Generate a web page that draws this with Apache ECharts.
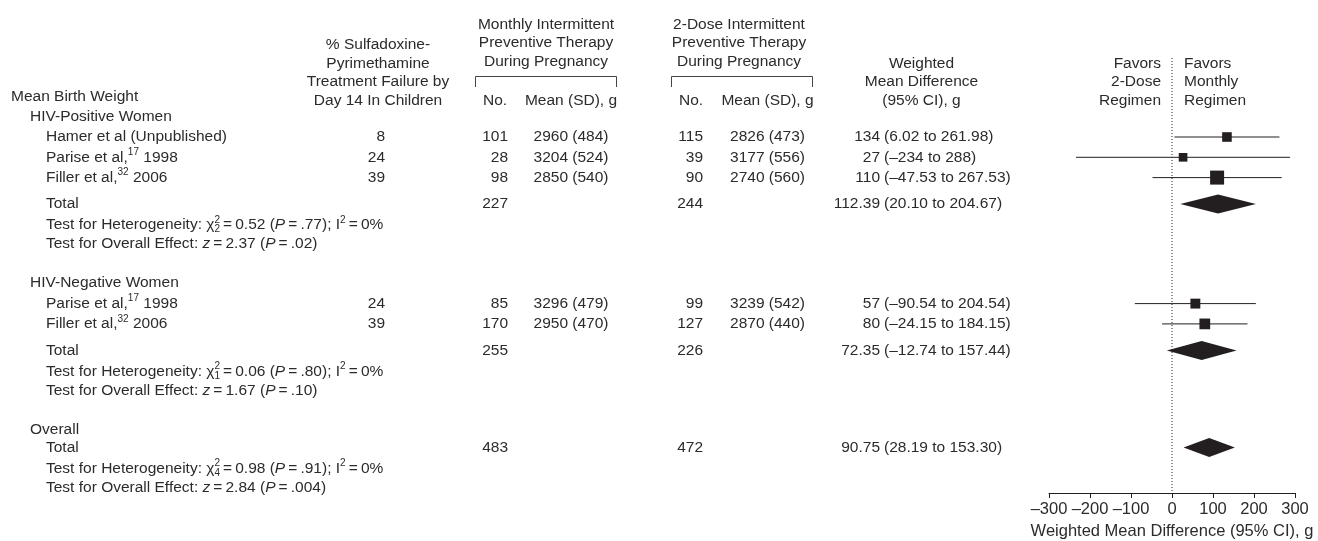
<!DOCTYPE html>
<html>
<head>
<meta charset="utf-8">
<script src="https://cdn.jsdelivr.net/npm/echarts@6/dist/echarts.min.js"></script>
<style>
  html, body { margin: 0; padding: 0; background: #fff; }
  #chart { width: 1318px; height: 541px; }
</style>
</head>
<body>
<div id="chart"></div>
<script>
// ---------- study data ----------
const studyNames = ['Hamer et al (Unpublished)', 'Parise et al,', 'Filler et al,', 'Parise et al,', 'Filler et al,'];
const studyRefs = ['', '17', '32', '17', '32'];
const studyYears = ['', '1998', '2006', '1998', '2006'];
const studyGroup = [0, 0, 0, 1, 1];
const failurePct = [8, 24, 39, 24, 39];
const monthlyN = [101, 28, 98, 85, 170];
const monthlyMean = [2960, 3204, 2850, 3296, 2950];
const monthlySD = [484, 524, 540, 479, 470];
const twoDoseN = [115, 39, 90, 99, 127];
const twoDoseMean = [2826, 3177, 2740, 3239, 2870];
const twoDoseSD = [473, 556, 560, 542, 440];
const wmd = [134, 27, 110, 57, 80];
const wmdLow = [6.02, -234, -47.53, -90.54, -24.15];
const wmdHigh = [261.98, 288, 267.53, 204.54, 184.15];
const weightPct = [16, 13, 34, 17, 20];

// ---------- pooled data per subgroup ----------
const groupNames = ['HIV-Positive Women', 'HIV-Negative Women', 'Overall'];
const totalMonthlyN = [227, 255, 483];
const totalTwoDoseN = [244, 226, 472];
const pooledWmd = [112.39, 72.35, 90.75];
const pooledLow = [20.10, -12.74, 28.19];
const pooledHigh = [204.67, 157.44, 153.30];
const hetChi2 = [0.52, 0.06, 0.98];
const hetDf = [2, 1, 4];
const hetP = [0.77, 0.80, 0.91];
const hetI2 = [0, 0, 0];
const effectZ = [2.37, 1.67, 2.84];
const effectP = [0.02, 0.10, 0.004];

// ---------- axis ----------
const axisTicks = [-300, -200, -100, 0, 100, 200, 300];
const axisTitle = 'Weighted Mean Difference (95% CI), g';

// ---------- styling / layout ----------
const FONT = "'Liberation Sans', Arial, Helvetica, sans-serif";
const FS = 15.5;      // body text
const AFS = 16.5;     // axis text
const SFS = 10;       // super/subscripts
const INK = '#231f20';
const TEXT = '#2b2b2b';
const T = '\u2009';   // thin space
const PLOT_BOTTOM = 493;
const REF_TOP = 58;
const SQUARE_K = 2.4;
const DIAMOND_HALF = 9.5;
const SUP_DY = -5, SUB_DY = 4.5;

// Table rows: title, then per group a header, its studies, total and two test lines
const rows = [{ kind: 'title' }];
groupNames.forEach((g, gi) => {
  rows.push({ kind: 'group', gi });
  studyGroup.forEach((sg, si) => { if (sg === gi) rows.push({ kind: 'study', gi, si }); });
  rows.push({ kind: 'total', gi });
  rows.push({ kind: 'het', gi });
  rows.push({ kind: 'effect', gi });
});
const GAP = {
  'title>group': 20, 'group>study': 20.5, 'study>study': 20.3, 'study>total': 26.5,
  'group>total': 18, 'total>het': 21, 'het>effect': 19, 'effect>group': 39
};
let prevRow = null, curY = 96.5;
rows.forEach(r => {
  if (prevRow) curY += GAP[prevRow.kind + '>' + r.kind];
  r.y = curY;
  prevRow = r;
});

// ---------- text helpers ----------
const measureCtx = document.createElement('canvas').getContext('2d');
function fontOf(size, italic) { return (italic ? 'italic ' : 'normal ') + 'normal ' + size + 'px ' + FONT; }
function widthOf(text, size, italic) { measureCtx.font = fontOf(size, italic); return measureCtx.measureText(text).width; }
function textEl(x, y, text, size, italic) {
  return {
    type: 'text', x: x, y: y, silent: true,
    style: { text: text, fontSize: size, fontFamily: FONT, fontStyle: italic ? 'italic' : 'normal',
             fill: TEXT, align: 'left', verticalAlign: 'middle' }
  };
}
function addLine(out, x, y, runs, align) {
  if (typeof runs === 'string') runs = [{ t: runs }];
  const ws = runs.map(r => r.k === 'stack'
    ? Math.max(widthOf(r.sup, SFS), widthOf(r.sub, SFS))
    : widthOf(r.t, (r.k === 'sup' || r.k === 'sub') ? SFS : FS, r.k === 'i'));
  const total = ws.reduce((a, b) => a + b, 0);
  let cx = align === 'right' ? x - total : align === 'center' ? x - total / 2 : x;
  runs.forEach((r, i) => {
    if (r.k === 'stack') {
      out.push(textEl(cx, y + SUP_DY, r.sup, SFS));
      out.push(textEl(cx, y + SUB_DY, r.sub, SFS));
    } else if (r.k === 'sup') out.push(textEl(cx, y + SUP_DY, r.t, SFS));
    else if (r.k === 'sub') out.push(textEl(cx, y + SUB_DY, r.t, SFS));
    else out.push(textEl(cx, y, r.t, FS, r.k === 'i'));
    cx += ws[i];
  });
}
const dash = s => s.replace('-', '\u2013');
const num = v => dash(Number.isInteger(v) ? String(v) : v.toFixed(2));
const pval = p => (p < 0.01 ? p.toFixed(3) : p.toFixed(2)).replace(/^0/, '');
const ci = (lo, hi) => '(' + num(lo) + ' to ' + num(hi) + ')';

// ---------- column positions ----------
const X = {
  title: 11, group: 30, item: 46,
  failure: 385, mN: 508, mMean: 571, tN: 703, tMean: 767.5,
  estRight: 880, ciLeft: 884
};

const g = [];
// column headers
const HY3 = [63.5, 82, 100.5];
['% Sulfadoxine-', 'Pyrimethamine', 'Treatment Failure by', 'Day 14 In Children']
  .forEach((t, i) => addLine(g, 378, [45, 63.5, 82, 100.5][i], t, 'center'));
['Monthly Intermittent', 'Preventive Therapy', 'During Pregnancy']
  .forEach((t, i) => addLine(g, 546, [24.5, 43, 61.5][i], t, 'center'));
['2-Dose Intermittent', 'Preventive Therapy', 'During Pregnancy']
  .forEach((t, i) => addLine(g, 739, [24.5, 43, 61.5][i], t, 'center'));
addLine(g, 495, 100.5, 'No.', 'center');
addLine(g, X.mMean, 100.5, 'Mean (SD), g', 'center');
addLine(g, 691, 100.5, 'No.', 'center');
addLine(g, X.tMean, 100.5, 'Mean (SD), g', 'center');
['Weighted', 'Mean Difference', '(95% CI), g'].forEach((t, i) => addLine(g, 921.5, HY3[i], t, 'center'));
['Favors', '2-Dose', 'Regimen'].forEach((t, i) => addLine(g, 1161, HY3[i], t, 'right'));
['Favors', 'Monthly', 'Regimen'].forEach((t, i) => addLine(g, 1184, HY3[i], t, 'left'));
[[475.5, 616.5], [671.5, 812.5]].forEach(([a, b]) => g.push({
  type: 'polyline', silent: true,
  shape: { points: [[a, 87], [a, 76.5], [b, 76.5], [b, 87]] },
  style: { stroke: '#444', lineWidth: 1, fill: null }
}));

// table body
rows.forEach(r => {
  const y = r.y;
  if (r.kind === 'title') addLine(g, X.title, y, 'Mean Birth Weight');
  else if (r.kind === 'group') addLine(g, X.group, y, groupNames[r.gi]);
  else if (r.kind === 'study') {
    const i = r.si;
    const nameRuns = [{ t: studyNames[i] }];
    if (studyRefs[i]) nameRuns.push({ k: 'sup', t: studyRefs[i] }, { t: ' ' + studyYears[i] });
    addLine(g, X.item, y, nameRuns);
    addLine(g, X.failure, y, String(failurePct[i]), 'right');
    addLine(g, X.mN, y, String(monthlyN[i]), 'right');
    addLine(g, X.mMean, y, monthlyMean[i] + ' (' + monthlySD[i] + ')', 'center');
    addLine(g, X.tN, y, String(twoDoseN[i]), 'right');
    addLine(g, X.tMean, y, twoDoseMean[i] + ' (' + twoDoseSD[i] + ')', 'center');
    addLine(g, X.estRight, y, num(wmd[i]), 'right');
    addLine(g, X.ciLeft, y, ci(wmdLow[i], wmdHigh[i]), 'left');
  } else if (r.kind === 'total') {
    const k = r.gi;
    addLine(g, X.item, y, 'Total');
    addLine(g, X.mN, y, String(totalMonthlyN[k]), 'right');
    addLine(g, X.tN, y, String(totalTwoDoseN[k]), 'right');
    addLine(g, X.estRight, y, num(pooledWmd[k]), 'right');
    addLine(g, X.ciLeft, y, ci(pooledLow[k], pooledHigh[k]), 'left');
  } else if (r.kind === 'het') {
    const k = r.gi;
    addLine(g, X.item, y, [
      { t: 'Test for Heterogeneity: \u03c7' },
      { k: 'stack', sup: '2', sub: String(hetDf[k]) },
      { t: T + '=' + T + num(hetChi2[k]) + ' (' },
      { t: 'P', k: 'i' },
      { t: T + '=' + T + pval(hetP[k]) + '); I' },
      { k: 'sup', t: '2' },
      { t: T + '=' + T + hetI2[k] + '%' }
    ]);
  } else if (r.kind === 'effect') {
    const k = r.gi;
    addLine(g, X.item, y, [
      { t: 'Test for Overall Effect: ' },
      { t: 'z', k: 'i' },
      { t: T + '=' + T + num(effectZ[k]) + ' (' },
      { t: 'P', k: 'i' },
      { t: T + '=' + T + pval(effectP[k]) + ')' }
    ]);
  }
});

// ---------- forest marks ----------
const studyData = rows.filter(r => r.kind === 'study')
  .map(r => [wmd[r.si], r.y, wmdLow[r.si], wmdHigh[r.si], weightPct[r.si]]);
const pooledData = rows.filter(r => r.kind === 'total')
  .map(r => [pooledWmd[r.gi], r.y, pooledLow[r.gi], pooledHigh[r.gi]]);

const chart = echarts.init(document.getElementById('chart'), null, { renderer: 'canvas' });
chart.setOption({
  animation: false,
  backgroundColor: '#fff',
  textStyle: { fontFamily: FONT, color: TEXT },
  grid: { left: 1049, top: 0, width: 246, height: PLOT_BOTTOM, containLabel: false, outerBoundsMode: 'none' },
  xAxis: {
    type: 'value',
    min: axisTicks[0], max: axisTicks[axisTicks.length - 1],
    interval: axisTicks[1] - axisTicks[0],
    position: 'bottom',
    axisLine: { show: true, onZero: false, lineStyle: { color: INK, width: 1 } },
    axisTick: { show: true, inside: false, length: 5, lineStyle: { color: INK, width: 1 } },
    splitLine: { show: false },
    axisLabel: {
      margin: 8, fontSize: AFS, fontFamily: FONT, color: TEXT,
      formatter: v => (v < 0 ? '\u2013' + Math.abs(v) : String(v))
    },
    name: axisTitle, nameLocation: 'middle', nameGap: 24,
    nameTextStyle: { fontSize: AFS, fontFamily: FONT, color: TEXT }
  },
  yAxis: { type: 'value', min: 0, max: PLOT_BOTTOM, inverse: true, show: false },
  graphic: { elements: g },
  series: [
    {
      type: 'line', silent: true, z: 1, symbol: 'none',
      data: [[0, REF_TOP], [0, PLOT_BOTTOM]],
      lineStyle: { color: INK, width: 1, type: [1, 2] }
    },
    {
      type: 'custom', z: 3, silent: true,
      encode: { x: 0, y: 1 },
      data: studyData,
      renderItem: (params, api) => {
        const y = api.value(1);
        const lo = api.coord([api.value(2), y]);
        const hi = api.coord([api.value(3), y]);
        const c = api.coord([api.value(0), y]);
        const s = SQUARE_K * Math.sqrt(api.value(4));
        return {
          type: 'group', children: [
            { type: 'line', shape: { x1: lo[0], y1: lo[1], x2: hi[0], y2: hi[1] },
              style: { stroke: INK, lineWidth: 1 } },
            { type: 'rect', shape: { x: c[0] - s / 2, y: c[1] - s / 2, width: s, height: s },
              style: { fill: INK } }
          ]
        };
      }
    },
    {
      type: 'custom', z: 3, silent: true,
      encode: { x: 0, y: 1 },
      data: pooledData,
      renderItem: (params, api) => {
        const y = api.value(1);
        const lo = api.coord([api.value(2), y]);
        const hi = api.coord([api.value(3), y]);
        const c = api.coord([api.value(0), y]);
        return {
          type: 'polygon',
          shape: { points: [[lo[0], lo[1]], [c[0], c[1] - DIAMOND_HALF], [hi[0], hi[1]], [c[0], c[1] + DIAMOND_HALF]] },
          style: { fill: INK }
        };
      }
    }
  ]
});
</script>
</body>
</html>
